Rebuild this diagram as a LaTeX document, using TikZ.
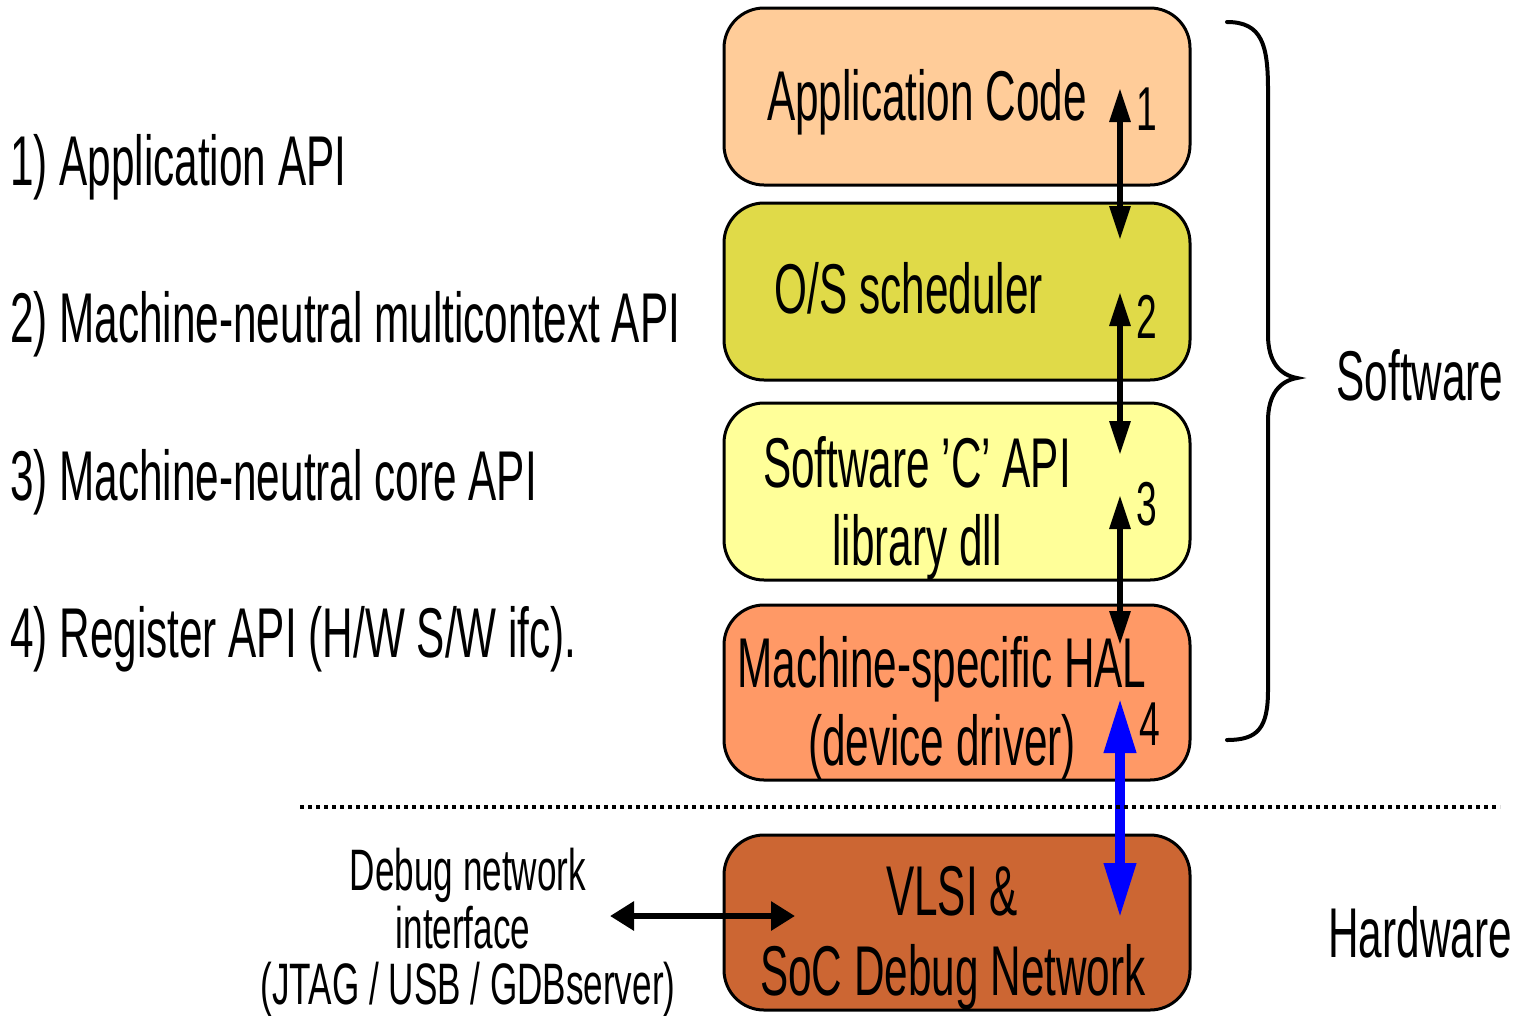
\documentclass[tikz,border=0pt]{standalone}
\usepackage{fontspec}
\setmainfont[FakeStretch=0.6]{Liberation Sans}
\usetikzlibrary{arrows.meta}
\definecolor{cApp}{HTML}{FFCC99}
\definecolor{cOS}{HTML}{E0DA48}
\definecolor{cLib}{HTML}{FFFF99}
\definecolor{cHAL}{HTML}{FF9966}
\definecolor{cVLSI}{HTML}{CC6633}
\definecolor{cBlue}{HTML}{0000FF}
\begin{document}
\begin{tikzpicture}[x=1pt,y=-1pt,
  layerbox/.style={draw=black,line width=3pt,rounded corners=40pt},
  bigtxt/.style={inner sep=0pt,font=\fontsize{70.5}{80}\selectfont},
  midtxt/.style={inner sep=0pt,font=\fontsize{58.5}{66}\selectfont},
  numtxt/.style={inner sep=0pt,text height=44pt,text depth=0pt,font=\fontsize{62}{70}\selectfont},
  apiarrow/.style={line width=6pt,{Triangle[length=34pt,width=20pt]}-{Triangle[length=34pt,width=20pt]}},
  hwarrow/.style={line width=10pt,cBlue,{Triangle[length=55pt,width=30pt]}-{Triangle[length=55pt,width=30pt]}},
  dbgarrow/.style={line width=6pt,{Triangle[length=24pt,width=28pt]}-{Triangle[length=24pt,width=28pt]}}]
\useasboundingbox (0,0) rectangle (1517,1015);
% boxes
\draw[layerbox,fill=cApp] (724,8) rectangle (1190,185);
\draw[layerbox,fill=cOS] (724,203) rectangle (1190,380);
\draw[layerbox,fill=cLib] (724,403) rectangle (1190,580);
\draw[layerbox,fill=cHAL] (724,605) rectangle (1190,780);
\draw[layerbox,fill=cVLSI] (724,835) rectangle (1190,1010);
% box texts
\node[bigtxt,anchor=base] (tApp) at (927,120) {Application Code};
\node[bigtxt,anchor=base] (tOS) at (909,313) {O/S scheduler};
\node[bigtxt,anchor=base] (tLib1) at (917,487) {Software ’C’ API};
\node[bigtxt,anchor=base] (tLib2) at (917,565) {library dll};
\node[bigtxt,anchor=base,text depth=0pt] (tHAL1) at (942,687) {Machine-specific HAL};
\node[bigtxt,anchor=base] (tHAL2) at (942,765) {(device driver)};
\node[bigtxt,anchor=base] (tV1) at (952,915) {VLSI \&};
\node[bigtxt,anchor=base] (tV2) at (953,995) {SoC Debug Network};
% left list
\node[bigtxt,anchor=base west] (l1) at (10,185) {1) Application API};
\node[bigtxt,anchor=base west] (l2) at (10,342) {2) Machine-neutral multicontext API};
\node[bigtxt,anchor=base west] (l3) at (10,500) {3) Machine-neutral core API};
\node[bigtxt,anchor=base west] (l4) at (10,657) {4) Register API (H/W S/W ifc).};
% right labels
\node[bigtxt,anchor=base] (sw) at (1420,400) {Software};
\node[bigtxt,anchor=base] (hw) at (1420,957) {Hardware};
% debug text
\node[midtxt,anchor=base] (d1) at (468,890) {Debug network};
\node[midtxt,anchor=base] (d2) at (463,948) {interface};
\node[midtxt,anchor=base] (d3) at (468,1004) {(JTAG / USB / GDBserver)};
% numbers
\node[numtxt,anchor=base] (n1) at (1147,130) {1};
\node[numtxt,anchor=base] (n2) at (1147,338) {2};
\node[numtxt,anchor=base] (n3) at (1147,525) {3};
\node[numtxt,anchor=base] (n4) at (1150,745) {4};
% arrow end points
\coordinate (a1t) at (1120,88);
\coordinate (a1b) at (1120,240);
\coordinate (a2t) at (1120,292);
\coordinate (a2b) at (1120,455);
\coordinate (a3t) at (1120,495);
\coordinate (a3b) at (1120,645);
\coordinate (a4t) at (1120,698);
\coordinate (a4b) at (1120,918);
\coordinate (dl) at (610,916);
\coordinate (dr) at (795,916);
\draw[apiarrow] (a1t) -- (a1b);
\draw[apiarrow] (a2t) -- (a2b);
\draw[apiarrow] (a3t) -- (a3b);
\draw[hwarrow] (a4t) -- (a4b);
\draw[dbgarrow] (dl) -- (dr);
% separator
\coordinate (sepL) at (300,807);
\coordinate (sepR) at (1500,807);
\draw[line width=3.5pt,dash pattern=on 4pt off 4pt] (sepL) -- (sepR);
% brace
\coordinate (brT) at (1227,22);
\coordinate (brB) at (1227,740);
\coordinate (brTip) at (1297,378);
\draw[line width=4pt,line cap=round] (brT) .. controls (1262,22) and (1268,45) .. (1268,90)
  -- (1268,335) .. controls (1268,362) and (1280,375) .. (brTip)
  .. controls (1280,381) and (1268,394) .. (1268,421)
  -- (1268,690) .. controls (1268,728) and (1258,740) .. (brB);
\end{tikzpicture}
\end{document}
